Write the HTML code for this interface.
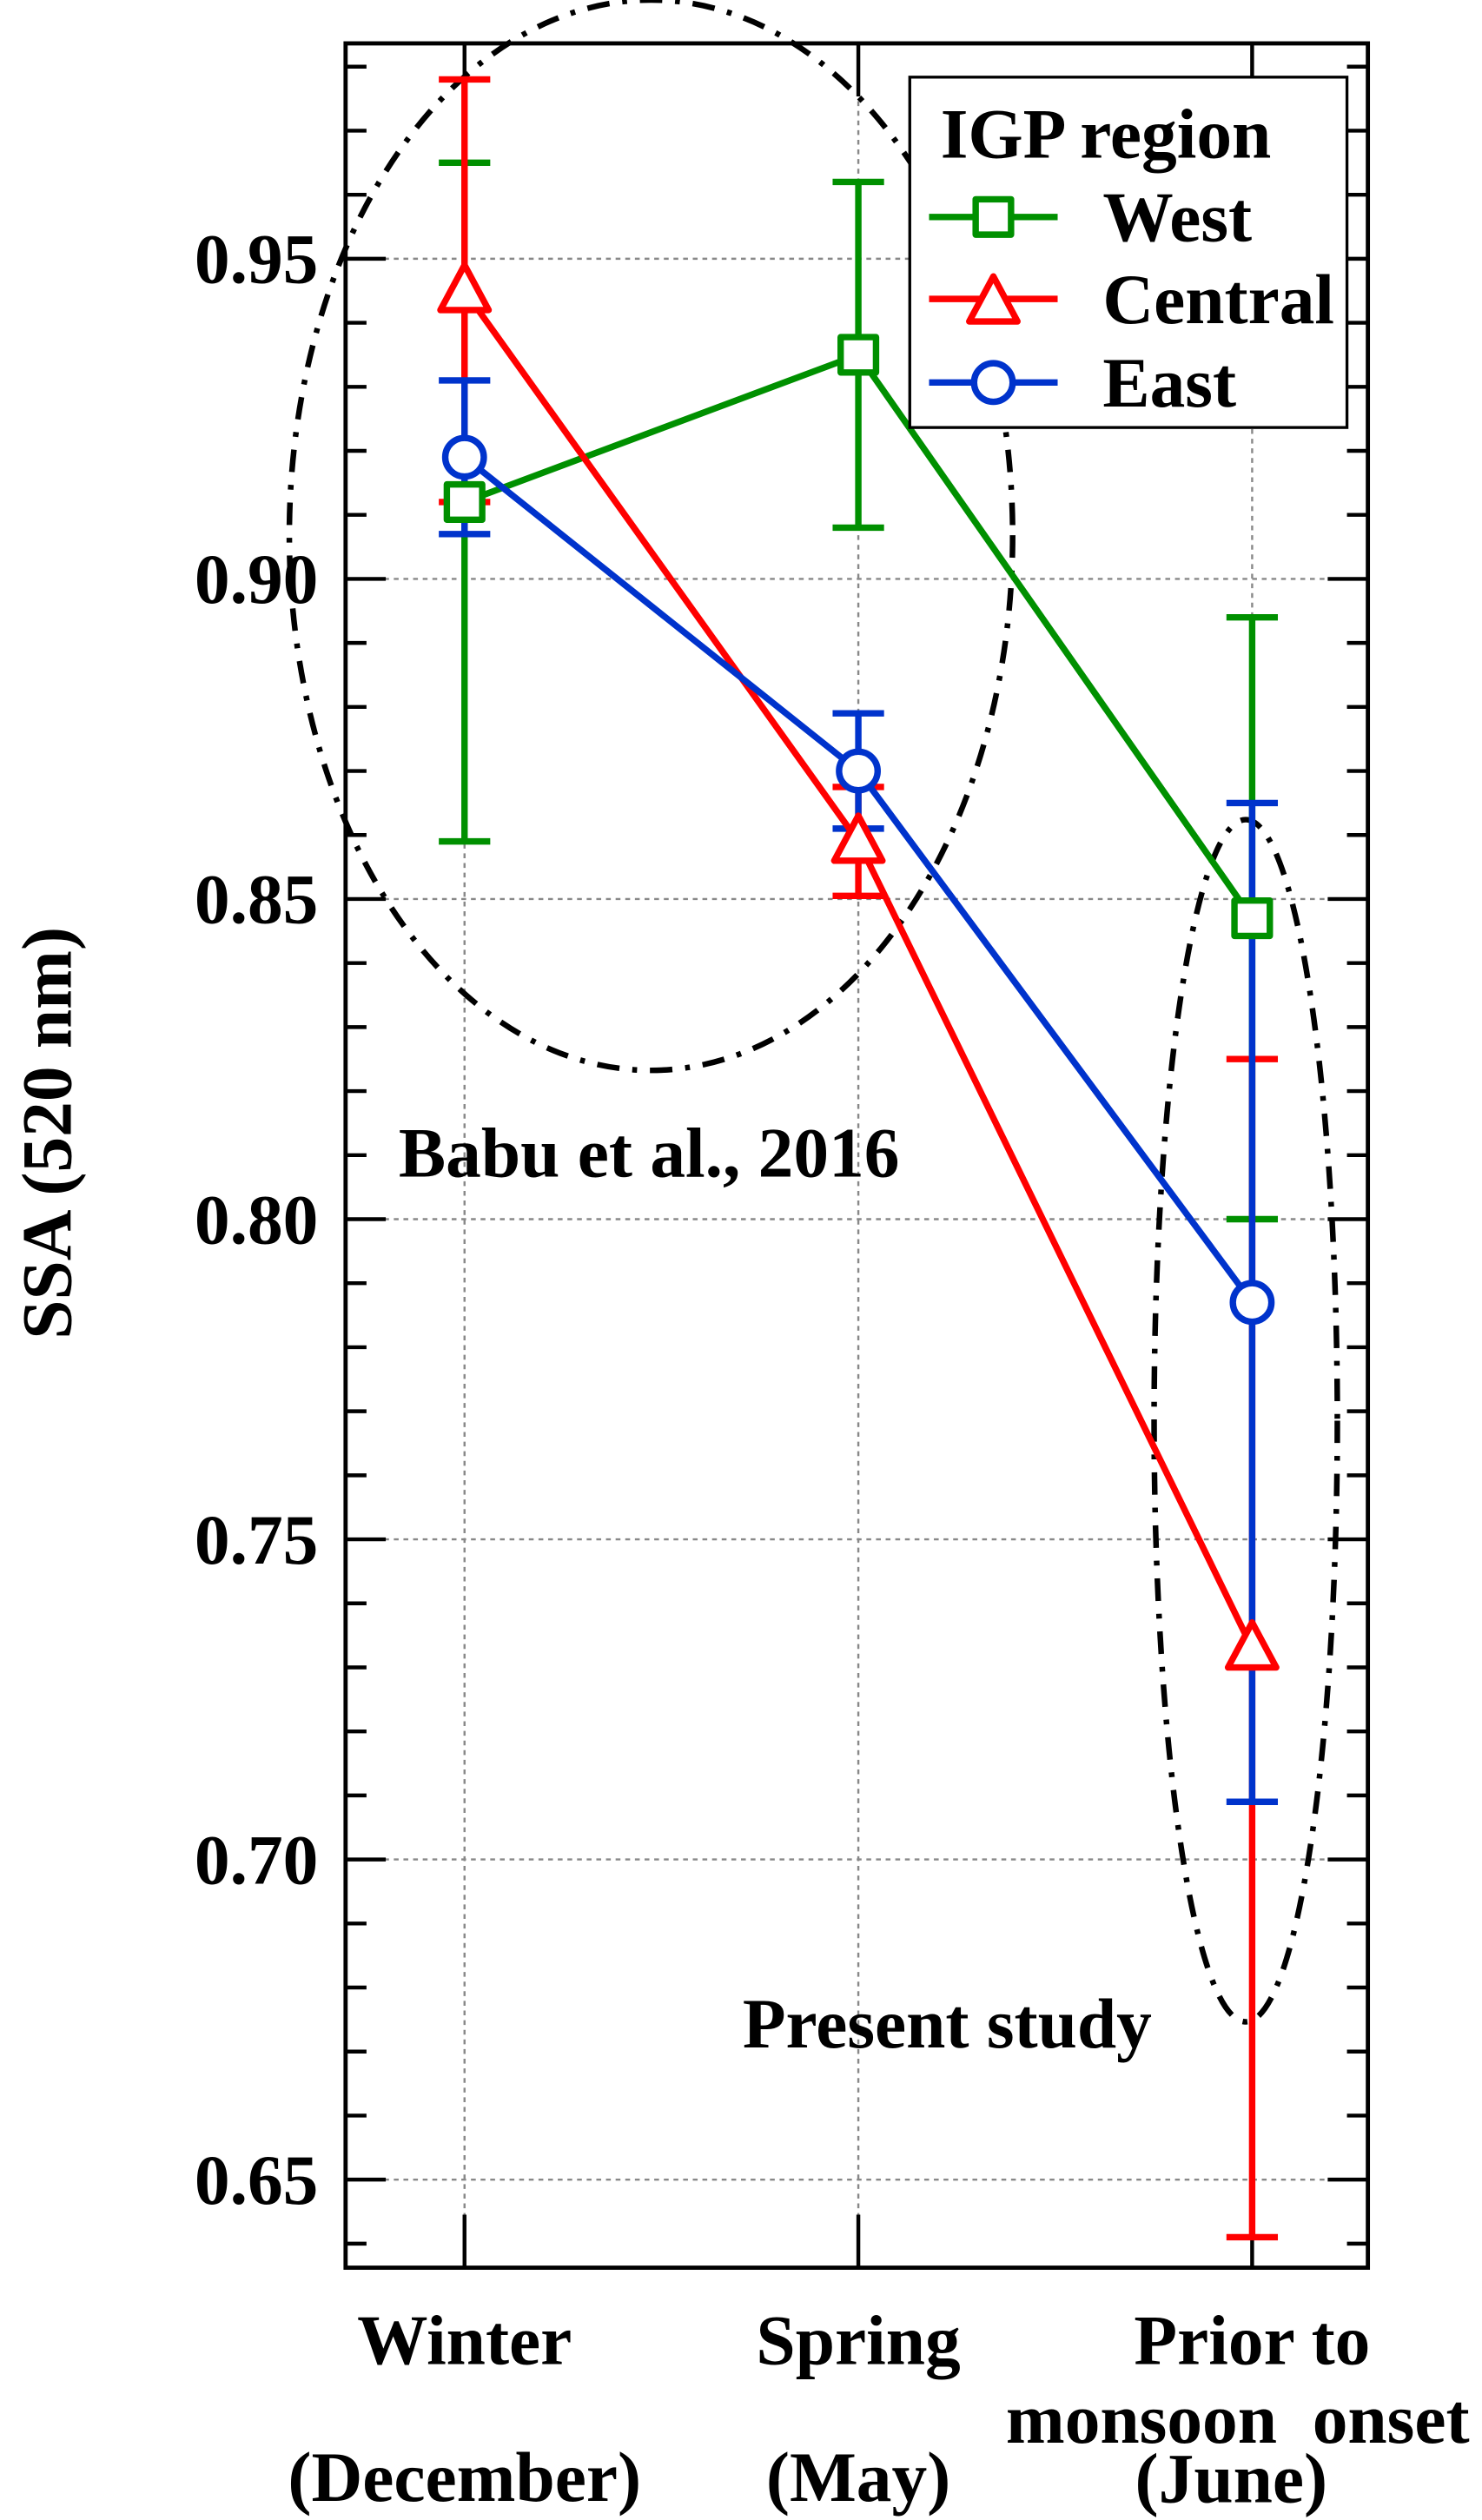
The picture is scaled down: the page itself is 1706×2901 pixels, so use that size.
<!DOCTYPE html>
<html><head><meta charset="utf-8"><style>
html,body{margin:0;padding:0;background:#fff;}
svg{display:block;}
text{font-family:"Liberation Serif",serif;font-weight:bold;font-size:44px;fill:#000;}
</style></head><body>
<svg id="chart" width="1706" height="2901" viewBox="0 0 922 1568" preserveAspectRatio="none" xmlns="http://www.w3.org/2000/svg">
<g id="grid"></g>
<g id="ellipses">
<ellipse cx="405" cy="333" rx="225" ry="333" fill="none" stroke="#000" stroke-width="3.5" stroke-dasharray="14,8,3,8"/>
<ellipse cx="775" cy="884" rx="57" ry="374" fill="none" stroke="#000" stroke-width="3.5" stroke-dasharray="14,8,3,8"/>
</g>
<g id="axes"></g>
<g id="series"></g>
<text x="248" y="732">Babu et al., 2016</text>
<text x="462" y="1274">Present study</text>
<text transform="translate(44,705) rotate(-90)" text-anchor="middle" font-size="42">SSA (520 nm)</text>
<g text-anchor="middle">
<text x="289" y="1471" text-anchor="middle">Winter</text>
<text x="289" y="1556" text-anchor="middle">(December)</text>
<text x="534" y="1471" text-anchor="middle">Spring</text>
<text x="534" y="1556" text-anchor="middle">(May)</text>
<text x="779" y="1471" text-anchor="middle">Prior to</text>
<text x="770" y="1520" text-anchor="middle" xml:space="preserve">monsoon  onset</text>
<text x="766" y="1557" text-anchor="middle">(June)</text>
</g>
<g id="legend">
<rect x="566" y="48" width="272" height="218" fill="#fff" stroke="#000" stroke-width="1.8"/>
<text x="688" y="98" text-anchor="middle">IGP region</text>
</g>
</svg>
<script>
const categories = ["Winter (December)", "Spring (May)", "Prior to monsoon onset (June)"];
const seriesNames = ["West", "Central", "East"];
const westValues = [0.912, 0.935, 0.847];
const westErrors = [0.053, 0.027, 0.047];
const centralValues = [0.945, 0.859, 0.733];
const centralErrors = [0.033, 0.0085, 0.092];
const eastValues = [0.919, 0.870, 0.787];
const eastErrors = [0.012, 0.009, 0.078];
const yTicks = [0.65, 0.70, 0.75, 0.80, 0.85, 0.90, 0.95];
const yTickLabels = ["0.65", "0.70", "0.75", "0.80", "0.85", "0.90", "0.95"];

const NS = "http://www.w3.org/2000/svg";
const L = 215, R = 851, T = 27, B = 1411;
const xPos = [289, 534, 779];
function y(v){ return 161 + (0.95 - v) * 3984; }
function x(i){ return xPos[i]; }
function mk(tag, attrs, parent){
  const e = document.createElementNS(NS, tag);
  for (const k in attrs) e.setAttribute(k, attrs[k]);
  parent.appendChild(e); return e;
}
const grid = document.getElementById('grid');
const axes = document.getElementById('axes');
const series = document.getElementById('series');
const legend = document.getElementById('legend');

yTicks.forEach((v, i) => {
  const g = mk('line', {x1:L, x2:R, y1:y(v), y2:y(v), stroke:'#888', 'stroke-width':1.3, 'stroke-dasharray':'3,3'}, grid);
  
  
  const t = mk('text', {x:198, y:y(v)+15, 'text-anchor':'end'}, axes);
  t.textContent = yTickLabels[i];
  
  
});
categories.forEach((c, i) => {
  const g = mk('line', {x1:x(i), x2:x(i), y1:T, y2:B, stroke:'#888', 'stroke-width':1.3, 'stroke-dasharray':'3,3'}, grid);
  
  
  const a = mk('line', {x1:x(i), x2:x(i), y1:T, y2:T+33, stroke:'#000', 'stroke-width':2.4}, axes);
  
  
  const b = mk('line', {x1:x(i), x2:x(i), y1:B, y2:B-33, stroke:'#000', 'stroke-width':2.4}, axes);
  
  
});
for (let k = 64; k <= 98; k++) {
  const v = k / 100;
  const yy = y(v);
  if (yy < T + 2 || yy > B - 2) continue;
  const major = (k % 5 === 0);
  const len = major ? 25 : 13;
  const t1 = mk('line', {x1:L, x2:L+len, y1:yy, y2:yy, stroke:'#000', 'stroke-width':2.4}, axes);
  
  
  const t2 = mk('line', {x1:R, x2:R-len, y1:yy, y2:yy, stroke:'#000', 'stroke-width':2.4}, axes);
  
  
}
const frame = mk('rect', {x:L, y:T, width:R-L, height:B-T, fill:'none', stroke:'#000', 'stroke-width':2.6}, axes);



function marker(shape, cx, cy, color, parent){
  let m;
  if (shape === 'square') m = mk('rect', {x:cx-11, y:cy-11, width:22, height:22, fill:'#fff', stroke:color, 'stroke-width':4, 'stroke-linejoin':'round'}, parent);
  else if (shape === 'triangle') m = mk('polygon', {points:`${cx},${cy-16} ${cx-15},${cy+12} ${cx+15},${cy+12}`, fill:'#fff', stroke:color, 'stroke-width':4, 'stroke-linejoin':'round'}, parent);
  else m = mk('circle', {cx:cx, cy:cy, r:12, fill:'#fff', stroke:color, 'stroke-width':4}, parent);
  return m;
}
const defs = [
  {name:'west', vals:westValues, errs:westErrors, color:'#009000', shape:'square'},
  {name:'central', vals:centralValues, errs:centralErrors, color:'#ff0000', shape:'triangle'},
  {name:'east', vals:eastValues, errs:eastErrors, color:'#0033cc', shape:'circle'}
];
const errG = mk('g', {}, series);
const lineG = mk('g', {}, series);
const markG = mk('g', {}, series);
defs.forEach(d => {
  d.vals.forEach((v, i) => {
    const top = y(v + d.errs[i]), bot = y(v - d.errs[i]);
    const e = mk('line', {x1:x(i), x2:x(i), y1:top, y2:bot, stroke:d.color, 'stroke-width':4}, errG);
    
    
    [top, bot].forEach(yy => {
      const c = mk('line', {x1:x(i)-16, x2:x(i)+16, y1:yy, y2:yy, stroke:d.color, 'stroke-width':4}, errG);
      
      
    });
  });
  const pts = d.vals.map((v, i) => x(i) + ',' + y(v)).join(' ');
  const pl = mk('polyline', {points:pts, fill:'none', stroke:d.color, 'stroke-width':4}, lineG);
  
  
  d.vals.forEach((v, i) => {
    const m = marker(d.shape, x(i), y(v), d.color, markG);
    
    
  });
});
const legY = [135, 186, 238];
defs.forEach((d, i) => {
  const ln = mk('line', {x1:578, x2:658, y1:legY[i], y2:legY[i], stroke:d.color, 'stroke-width':4}, legend);
  
  
  const m = marker(d.shape, 618, legY[i] + (d.shape === 'triangle' ? 2 : 0), d.color, legend);
  
  
  const t = mk('text', {x:686, y:legY[i] + 15}, legend);
  t.textContent = seriesNames[i];
  
  
});
</script>
</body></html>
